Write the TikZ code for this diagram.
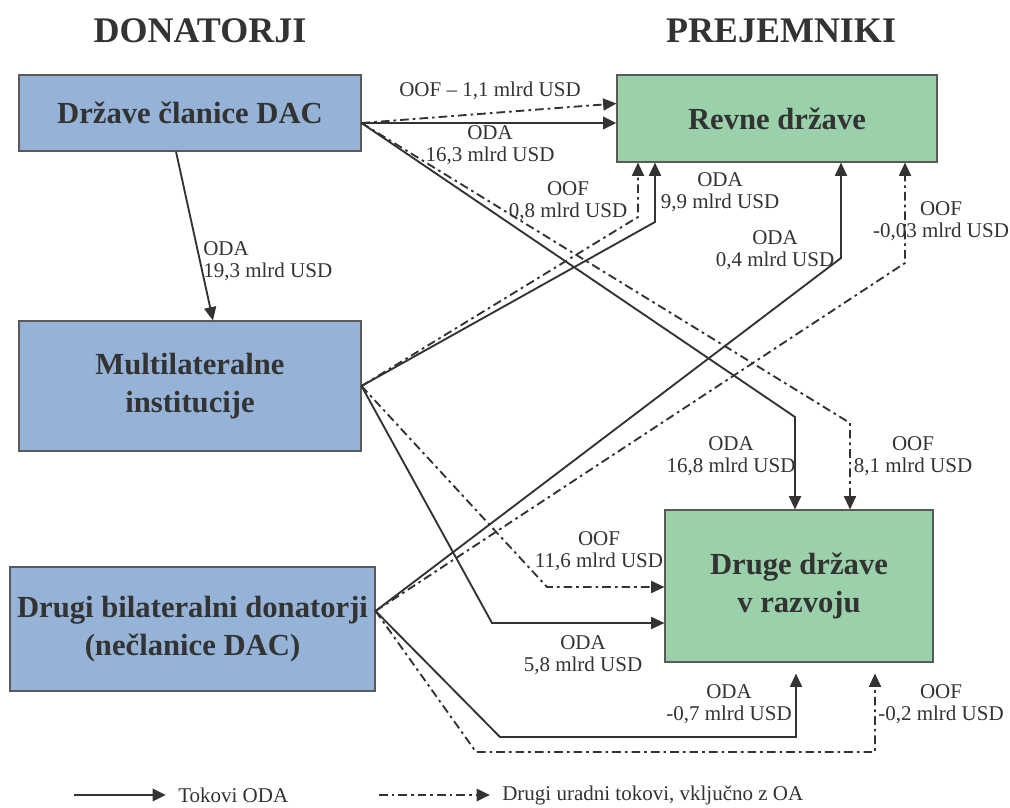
\documentclass[tikz,border=0pt]{standalone}
\usepackage{fontspec}
\setmainfont{Liberation Serif}
\usetikzlibrary{arrows.meta,calc}

\definecolor{inkgrey}{RGB}{51,51,51}
\definecolor{edgegrey}{RGB}{90,90,90}
\definecolor{donorblue}{RGB}{149,179,215}
\definecolor{recipgreen}{RGB}{154,209,171}

\tikzset{
  donorbox/.style={draw=edgegrey, fill=donorblue, line width=0.8pt, text=inkgrey,
    font=\fontsize{23}{28.5}\selectfont\bfseries, align=center, inner sep=0pt},
  recipbox/.style={donorbox, fill=recipgreen},
  headtitle/.style={text=inkgrey, font=\fontsize{27}{30}\selectfont\bfseries, inner sep=0pt},
  flowlabel/.style={text=inkgrey, font=\fontsize{15.75}{16}\selectfont, align=center, inner sep=0pt},
  odaflow/.style={draw=inkgrey, line width=1.4pt, -{Triangle[length=10pt,width=9pt]}},
  oofflow/.style={odaflow, dash pattern=on 6.5pt off 3pt on 2pt off 3pt}
}

\begin{document}
\begin{tikzpicture}[x=0.75pt,y=0.75pt,yscale=-1,xscale=1]
\fill[white, use as bounding box] (0,0) rectangle (1010,807);

% Titles
\node[headtitle] (dontitle) at (200,31) {DONATORJI};
\node[headtitle] (rectitle) at (781,31) {PREJEMNIKI};

% Donors
\node[donorbox, minimum width=256.5pt, minimum height=57pt] (dac) at (190,113) {Države članice DAC};
\node[donorbox, minimum width=256.5pt, minimum height=97.5pt] (multi) at (190,386) {Multilateralne\\institucije};
\node[donorbox, minimum width=273.75pt, minimum height=93pt] (drugi) at (192.5,629) {Drugi bilateralni donatorji\\(nečlanice DAC)};

% Recipients
\node[recipbox, minimum width=240pt, minimum height=65.25pt] (revne) at (777,118.5) {Revne države};
\node[recipbox, minimum width=201pt, minimum height=114pt] (druge) at (799,586) {Druge države\\v razvoju};

% Start and bend points
\coordinate (dacout) at ($(dac.east)+(0,10)$);
\coordinate (drugiout) at ($(drugi.east)+(0,-18)$);
\coordinate (dgbase) at ($(druge.south)+(0,11)$);
\coordinate (b1) at (795,417);
\coordinate (b2) at (850,423);
\coordinate (b3) at (655,222);
\coordinate (b4) at (638,217);
\coordinate (b5) at (492,623);
\coordinate (b6) at (547,587);
\coordinate (b7) at (841,258);
\coordinate (b8) at (905,263);
\coordinate (b9) at (500,737);
\coordinate (b9r) at (796,737);
\coordinate (b10) at (476,752);
\coordinate (b10r) at (875,752);

% Flows from DAC members
\draw[odaflow, line width=2.2pt] (dacout) -- (revne.west |- dacout);
\draw[oofflow] (dacout) -- ($(revne.west)+(0,-15)$);
\draw[odaflow] ($(dac.south)+(-14,0)$) -- ($(multi.north)+(23,0)$);
\draw[odaflow] (dacout) -- (b1) -- (b1 |- druge.north);
\draw[oofflow] (dacout) -- (b2) -- (b2 |- druge.north);

% Flows from multilateral institutions
\draw[odaflow] (multi.east) -- (b3) -- (b3 |- revne.south);
\draw[oofflow] (multi.east) -- (b4) -- (b4 |- revne.south);
\draw[odaflow] (multi.east) -- (b5) -- (b5 -| druge.west);
\draw[oofflow] (multi.east) -- (b6) -- (b6 -| druge.west);

% Flows from other bilateral donors
\draw[odaflow] (drugiout) -- (b7) -- (b7 |- revne.south);
\draw[oofflow] (drugiout) -- (b8) -- (b8 |- revne.south);
\draw[odaflow] (drugiout) -- (b9) -- (b9r) -- (b9r |- dgbase);
\draw[oofflow] (drugiout) -- (b10) -- (b10r) -- (b10r |- dgbase);

% Flow labels
\node[flowlabel] (oofdacrev) at (490,91) {OOF -- 1,1 mlrd USD};
\node[flowlabel] (odadacrev) at (490,145) {ODA\\16,3 mlrd USD};
\node[flowlabel, anchor=west, align=left] (odadacmul) at (203,261) {ODA\\19,3 mlrd USD};
\node[flowlabel] (oofmulrev) at (568,201) {OOF\\0,8 mlrd USD};
\node[flowlabel] (odamulrev) at (720,192) {ODA\\9,9 mlrd USD};
\node[flowlabel] (odadrurev) at (775,250) {ODA\\0,4 mlrd USD};
\node[flowlabel] (oofdrurev) at (941,221) {OOF\\-0,03 mlrd USD};
\node[flowlabel] (odadacdru) at (731,456) {ODA\\16,8 mlrd USD};
\node[flowlabel] (oofdacdru) at (913,456) {OOF\\8,1 mlrd USD};
\node[flowlabel] (oofmuldru) at (599,551) {OOF\\11,6 mlrd USD};
\node[flowlabel] (odamuldru) at (583,655) {ODA\\5,8 mlrd USD};
\node[flowlabel] (odadrudru) at (729,704) {ODA\\-0,7 mlrd USD};
\node[flowlabel] (oofdrudru) at (941,704) {OOF\\-0,2 mlrd USD};

% Legend
\coordinate (legoda) at (74,795);
\node[flowlabel, anchor=west] (legodatext) at (178,795) {Tokovi ODA};
\draw[odaflow, line width=2.2pt] (legoda) -- ($(legodatext.west)+(-12,0)$);
\coordinate (legoof) at (379,795);
\node[flowlabel, anchor=west] (legooftext) at (502,795) {Drugi uradni tokovi, vključno z OA};
\draw[oofflow, line width=2pt] (legoof) -- ($(legooftext.west)+(-12,0)$);

\end{tikzpicture}
\end{document}
